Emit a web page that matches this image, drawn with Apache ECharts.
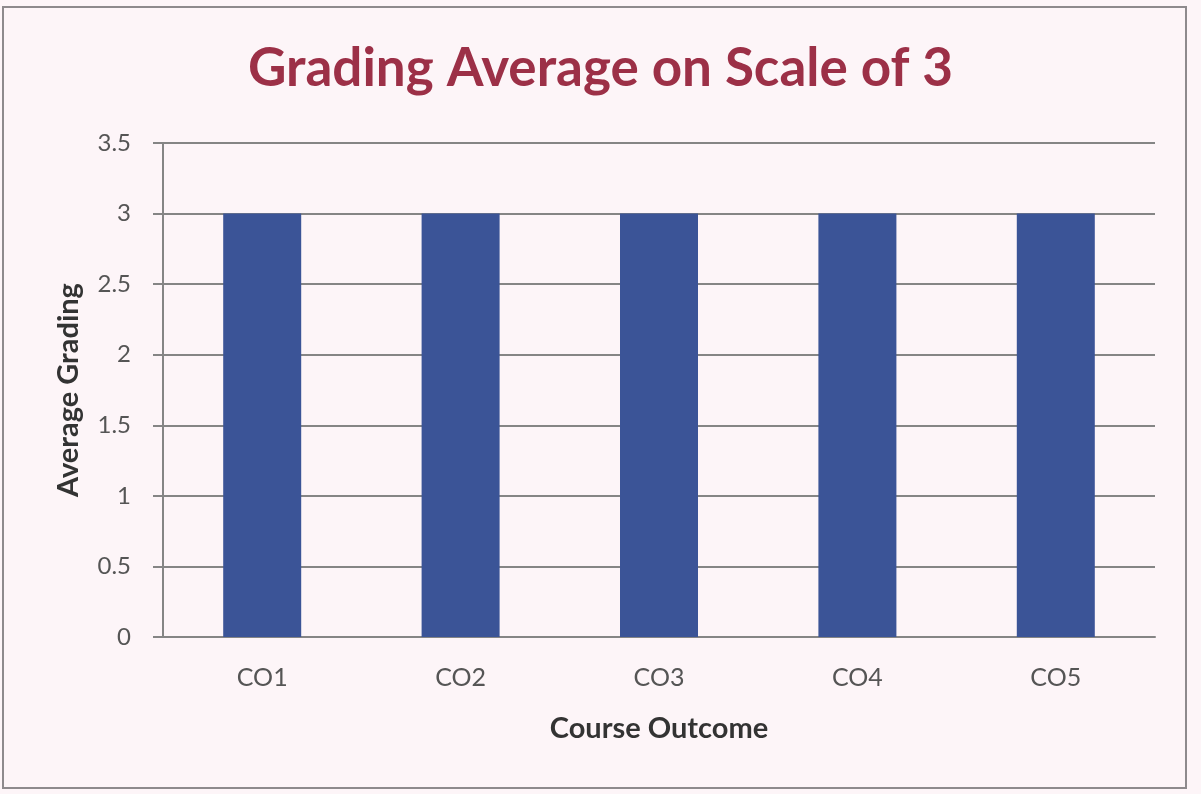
<!DOCTYPE html>
<html>
<head>
<meta charset="utf-8">
<script src="https://cdn.jsdelivr.net/npm/echarts@6/dist/echarts.min.js"></script>
<style>
  html, body { margin: 0; padding: 0; background: #fdf5f8; }
  #frame {
    position: absolute; left: 2px; top: 6px; width: 1185px; height: 783px;
    border: 2px solid #8e8a8d; box-sizing: border-box;
  }
  #chart { position: absolute; left: 0; top: 0; width: 1201px; height: 794px; }
</style>
</head>
<body>
<div id="chart"></div>
<div id="frame"></div>
<script>
// Datos de la gráfica
const categories = ['CO1', 'CO2', 'CO3', 'CO4', 'CO5'];
const averageGrading = [3, 3, 3, 3, 3];
const yTicks = [0, 0.5, 1, 1.5, 2, 2.5, 3, 3.5];

const chart = echarts.init(document.getElementById('chart'));

const option = {
  backgroundColor: '#fdf5f8',
  title: {
    text: 'Grading Average on Scale of 3',
    left: 'center',
    top: 37,
    textStyle: {
      color: '#9c3047',
      fontSize: 53,
      fontWeight: 'bold',
      fontFamily: 'Lato'
    }
  },
  grid: {
    left: 163,
    right: 46,
    top: 143,
    bottom: 157
  },
  xAxis: {
    type: 'category',
    data: categories,
    name: 'Course Outcome',
    nameLocation: 'middle',
    nameGap: 77,
    nameTextStyle: { color: '#333', fontSize: 29, fontWeight: 'bold', fontFamily: 'Lato' },
    axisLine: { lineStyle: { color: '#858585', width: 2 } },
    axisTick: { show: false },
    axisLabel: { color: '#555', fontSize: 25, margin: 28, fontFamily: 'Lato' }
  },
  yAxis: {
    type: 'value',
    min: yTicks[0],
    max: yTicks[yTicks.length - 1],
    interval: 0.5,
    name: 'Average Grading',
    nameLocation: 'middle',
    nameGap: 80,
    nameTextStyle: { color: '#333', fontSize: 29, fontWeight: 'bold', fontFamily: 'Lato' },
    axisLine: { show: true, lineStyle: { color: '#858585', width: 2 } },
    axisTick: { show: true, length: 10, lineStyle: { color: '#858585', width: 2 } },
    axisLabel: { color: '#555', fontSize: 24, margin: 32, fontFamily: 'Lato' },
    splitLine: { lineStyle: { color: '#858585', width: 2 } }
  },
  series: [{
    type: 'bar',
    data: averageGrading,
    barWidth: 78,
    itemStyle: { color: '#3b5497' }
  }]
};

chart.setOption(option);
</script>
</body>
</html>
